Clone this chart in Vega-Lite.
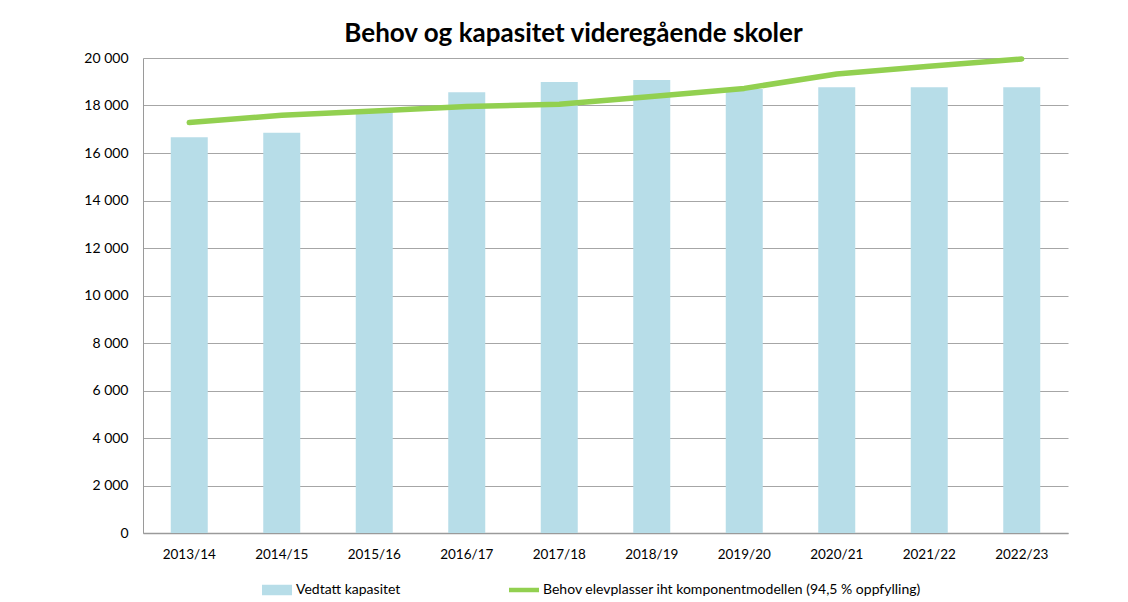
{
  "$schema": "https://vega.github.io/schema/vega-lite/v6.json",
  "autosize": {"type": "none"},
  "width": 925,
  "height": 475,
  "padding": {"left": 143, "top": 58, "right": 60, "bottom": 69},
  "background": "white",
  "title": {
    "text": "Behov og kapasitet videregående skoler",
    "anchor": "middle",
    "dx": -32,
    "offset": 4,
    "fontSize": 26,
    "font": "Lato",
    "fontWeight": "bold",
    "color": "#000000"
  },
  "config": {
    "font": "Lato",
    "view": {"stroke": null},
    "axis": {"labelFont": "Lato", "labelColor": "#000000", "labelFontSize": 13.5, "domainColor": "#9a9a9a", "ticks": false, "title": null},
    "legend": {"labelFont": "Lato"}
  },
  "data": {
    "values": [
      {"year": "2013/14", "kapasitet": 16660, "behov": 17280},
      {"year": "2014/15", "kapasitet": 16850, "behov": 17590},
      {"year": "2015/16", "kapasitet": 17750, "behov": 17770},
      {"year": "2016/17", "kapasitet": 18560, "behov": 17960},
      {"year": "2017/18", "kapasitet": 18990, "behov": 18050},
      {"year": "2018/19", "kapasitet": 19070, "behov": 18380},
      {"year": "2019/20", "kapasitet": 18700, "behov": 18720},
      {"year": "2020/21", "kapasitet": 18770, "behov": 19330},
      {"year": "2021/22", "kapasitet": 18770, "behov": 19650},
      {"year": "2022/23", "kapasitet": 18770, "behov": 19960}
    ]
  },
  "encoding": {
    "x": {
      "field": "year",
      "type": "ordinal",
      "sort": null,
      "scale": {"paddingInner": 0.6, "paddingOuter": 0.3},
      "axis": {"labelAngle": 0, "labelPadding": 14, "domainWidth": 1.5, "grid": false}
    }
  },
  "layer": [
    {
      "mark": {"type": "bar", "fill": "#b7dde8"},
      "encoding": {
        "y": {
          "field": "kapasitet",
          "type": "quantitative",
          "scale": {"domain": [0, 20000]},
          "axis": {
            "values": [0, 2000, 4000, 6000, 8000, 10000, 12000, 14000, 16000, 18000, 20000],
            "labelExpr": "replace(format(datum.value, ','), ',', ' ')",
            "labelPadding": 15,
            "labelFontSize": 14,
            "grid": true,
            "gridColor": "#a6a6a6",
            "gridWidth": 1,
            "domainColor": "#9a9a9a"
          }
        },
        "color": {
          "datum": "Vedtatt kapasitet",
          "scale": {
            "domain": ["Vedtatt kapasitet", "Behov elevplasser iht komponentmodellen  (94,5 % oppfylling)"],
            "range": ["#b7dde8", "#92d050"]
          },
          "legend": {
            "orient": "none",
            "legendX": 119,
            "legendY": 517,
            "direction": "horizontal",
            "title": null,
            "labelFontSize": 14,
            "labelLimit": 0,
            "labelColor": "#000000",
            "columnPadding": 108,
            "labelOffset": 4,
            "symbolSize": 900,
            "encode": {
              "symbols": {
                "update": {
                  "shape": {"signal": "datum.value === 'Vedtatt kapasitet' ? 'M-1,-0.35H1V0.35H-1Z' : 'M-1,-0.15H1V0.15H-1Z'"},
                  "fill": {"signal": "datum.value === 'Vedtatt kapasitet' ? '#b7dde8' : '#92d050'"},
                  "stroke": {"value": "transparent"},
                  "strokeWidth": {"value": 0},
                  "opacity": {"value": 1},
                  "fillOpacity": {"value": 1}
                }
              }
            }
          }
        }
      }
    },
    {
      "mark": {"type": "line", "strokeWidth": 5.5, "strokeCap": "round", "strokeJoin": "round"},
      "encoding": {
        "y": {"field": "behov", "type": "quantitative"},
        "color": {"datum": "Behov elevplasser iht komponentmodellen  (94,5 % oppfylling)"}
      }
    }
  ]
}
